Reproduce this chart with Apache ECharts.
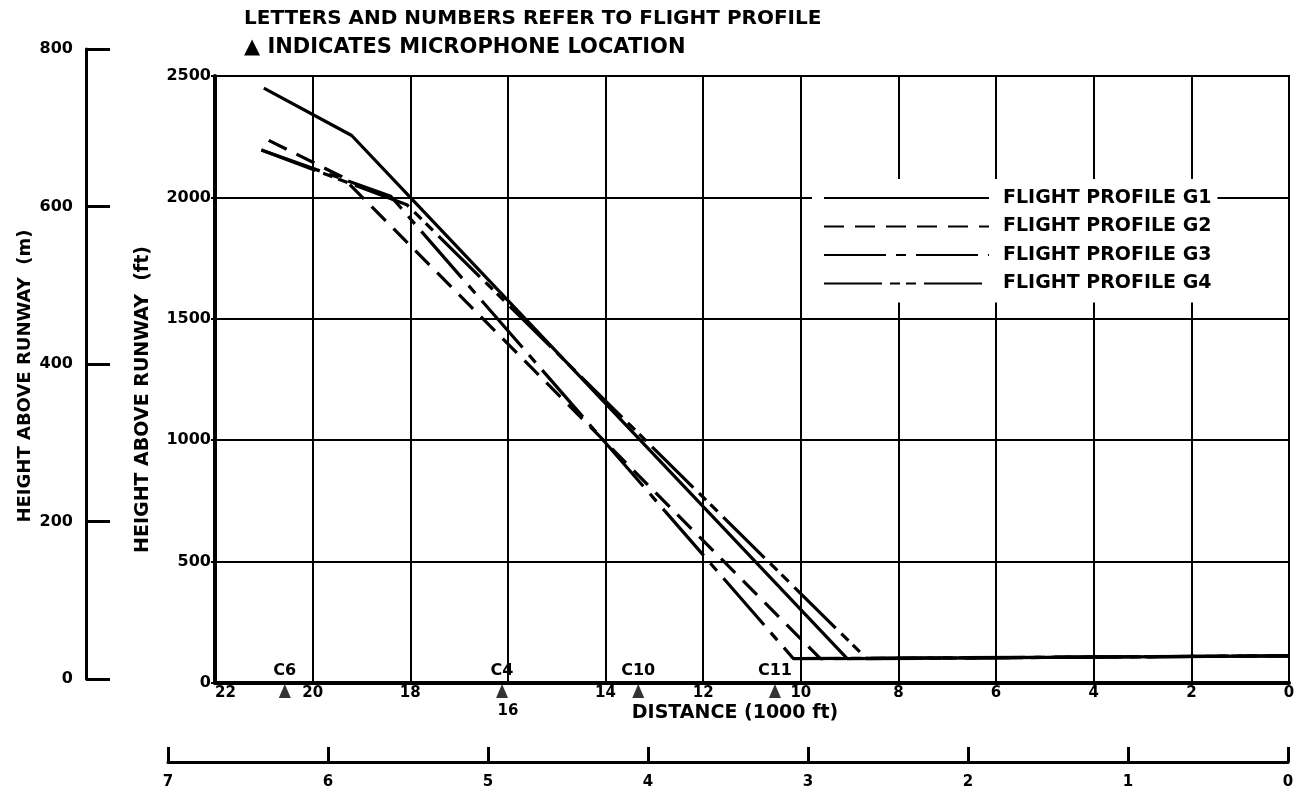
<!DOCTYPE html>
<html><head><meta charset="utf-8">
<script src="https://cdn.jsdelivr.net/npm/echarts@6/dist/echarts.min.js"></script>
<style>html,body{margin:0;padding:0;background:#fff}#c{width:1300px;height:791px}</style>
</head><body><div id="c"></div>
<script>
// ---- data ----
const profileNames = ['FLIGHT PROFILE G1', 'FLIGHT PROFILE G2', 'FLIGHT PROFILE G3', 'FLIGHT PROFILE G4'];
// distance in 1000 ft, height in ft
const g1Dist   = [21.0, 19.2, 18.0, 9.05, 0];
const g1Height = [2450, 2255, 2000, 100, 112];
const g2Dist   = [20.9, 19.4, 9.6, 0];
const g2Height = [2235, 2085, 100, 112];
const g3Dist   = [21.05, 18.4, 10.15, 0];
const g3Height = [2195, 2005, 100, 112];
const g4Dist   = [21.05, 18.07, 8.65, 0];
const g4Height = [2195, 1970, 100, 112];

const micNames = ['C6', 'C4', 'C10', 'C11'];
const micDist  = [20.57, 16.12, 13.33, 10.53];

// tick labels
const distKftTicks = [0, 2, 4, 6, 8, 10, 12, 14, 16, 18, 20, 22];
const heightFtTicks = [0, 500, 1000, 1500, 2000, 2500];
const heightMTicks = [0, 200, 400, 600, 800];
const distKmTicks = [0, 1, 2, 3, 4, 5, 6, 7];

const titleLine1 = 'LETTERS AND NUMBERS REFER TO FLIGHT PROFILE';
const titleLine2 = '\u25B2 INDICATES MICROPHONE LOCATION';

// ---- styling ----
const FONT = 'DejaVu Sans';
const txt = (size) => ({ fontFamily: FONT, fontWeight: 'bold', fontSize: size, color: '#000' });
const zip = (xs, ys) => xs.map((x, i) => [x, ys[i]]);

const dashes = ['solid', [20, 11], [62, 10, 10, 10], [58, 8, 10, 6, 10, 8]];
const profiles = [[g1Dist, g1Height], [g2Dist, g2Height], [g3Dist, g3Height], [g4Dist, g4Height]];

const chart = echarts.init(document.getElementById('c'), null, { renderer: 'canvas' });

const option = {
  backgroundColor: '#fff',
  animation: false,
  title: [
    { text: titleLine1, left: 239, top: 4, textStyle: txt(20) },
    { text: titleLine2, left: 239, top: 32, textStyle: txt(21) }
  ],
  legend: {
    data: profileNames,
    orient: 'vertical',
    left: 812, top: 179,
    padding: [9, 6, 9, 11],
    itemWidth: 165, itemHeight: 14, itemGap: 8.5,
    backgroundColor: '#fff',
    itemStyle: { color: 'rgba(0,0,0,0)', borderWidth: 0, opacity: 0 },
    textStyle: Object.assign(txt(19), { lineHeight: 20, padding: [0, 0, 0, 9] })
  },
  grid: [
    { left: 215, right: 11, top: 76, bottom: 108, show: true, borderColor: '#000', borderWidth: 2, backgroundColor: 'transparent' },
    { left: 86, width: 40, top: 49, bottom: 112, show: false },
    { left: 168, right: 12, bottom: 29, height: 20, show: false }
  ],
  xAxis: [
    {
      type: 'value', gridIndex: 0, inverse: true,
      min: distKftTicks[0], max: distKftTicks[distKftTicks.length - 1], interval: distKftTicks[1] - distKftTicks[0],
      axisLine: { show: true, onZero: false, lineStyle: { color: '#000', width: 4 } },
      axisTick: { show: false },
      splitLine: { show: true, lineStyle: { color: '#000', width: 2 } },
      axisLabel: {
        margin: 3, alignMaxLabel: 'left',
        ...txt(15),
        formatter: v => (v === 16 ? '{low|' + v + '}' : String(v)),
        rich: { low: { ...txt(15), padding: [18, 0, 0, 0] } }
      },
      name: 'DISTANCE (1000 ft)', nameLocation: 'middle', nameGap: 21, nameMoveOverlap: false,
      nameTextStyle: { ...txt(19), padding: [0, 34, 0, 0] }
    },
    {
      type: 'value', gridIndex: 2, inverse: true,
      min: distKmTicks[0], max: distKmTicks[distKmTicks.length - 1], interval: 1,
      position: 'bottom',
      axisLine: { show: true, onZero: false, lineStyle: { color: '#000', width: 3 } },
      axisTick: { show: true, inside: true, length: 15, lineStyle: { color: '#000', width: 3 } },
      splitLine: { show: false },
      axisLabel: { margin: 13, ...txt(15), formatter: v => String(v) }
    },
    { type: 'value', gridIndex: 1, show: false, min: 0, max: 1 }
  ],
  yAxis: [
    {
      type: 'value', gridIndex: 0,
      min: heightFtTicks[0], max: heightFtTicks[heightFtTicks.length - 1], interval: heightFtTicks[1] - heightFtTicks[0],
      axisLine: { show: true, onZero: false, lineStyle: { color: '#000', width: 4 } },
      axisTick: { show: true, length: 4, lineStyle: { color: '#000', width: 2 } },
      splitLine: { show: true, lineStyle: { color: '#000', width: 2 } },
      axisLabel: { margin: 4, ...txt(16), formatter: v => String(v) },
      name: 'HEIGHT ABOVE RUNWAY  (ft)', nameLocation: 'middle', nameGap: 62, nameRotate: 90, nameMoveOverlap: false,
      nameTextStyle: { ...txt(19), padding: [0, 40, 0, 0] }
    },
    {
      type: 'value', gridIndex: 1, position: 'left',
      min: heightMTicks[0], max: heightMTicks[heightMTicks.length - 1], interval: heightMTicks[1] - heightMTicks[0],
      axisLine: { show: true, onZero: false, lineStyle: { color: '#000', width: 3 } },
      axisTick: { show: true, inside: true, length: 24, lineStyle: { color: '#000', width: 3 } },
      splitLine: { show: false },
      axisLabel: { margin: 13, ...txt(16), formatter: v => String(v) },
      name: 'HEIGHT ABOVE RUNWAY  (m)', nameLocation: 'middle', nameGap: 52, nameRotate: 90, nameMoveOverlap: false,
      nameTextStyle: { ...txt(18), padding: [0, 24, 0, 0] }
    },
    { type: 'value', gridIndex: 2, show: false, min: 0, max: 1 }
  ],
  series: [
    ...profiles.map((p, i) => ({
      type: 'line', name: profileNames[i],
      xAxisIndex: 0, yAxisIndex: 0,
      data: zip(p[0], p[1]),
      symbol: 'none', smooth: false,
      lineStyle: { color: '#000', width: 3.2, type: dashes[i] },
      itemStyle: { color: '#000' },
      z: 3
    })),
    {
      type: 'scatter', name: 'mic',
      xAxisIndex: 0, yAxisIndex: 0,
      data: micDist.map((d, i) => ({ name: micNames[i], value: [d, 0] })),
      symbol: 'triangle', symbolSize: [12, 14], symbolOffset: [0, 8],
      clip: false,
      itemStyle: { color: '#000' },
      label: { show: true, position: 'top', distance: 5, formatter: '{b}', ...txt(16), textBorderWidth: 0, opacity: 1 },
      emphasis: { disabled: true },
      z: 6
    }
  ]
};
chart.setOption(option);
</script>
</body></html>
